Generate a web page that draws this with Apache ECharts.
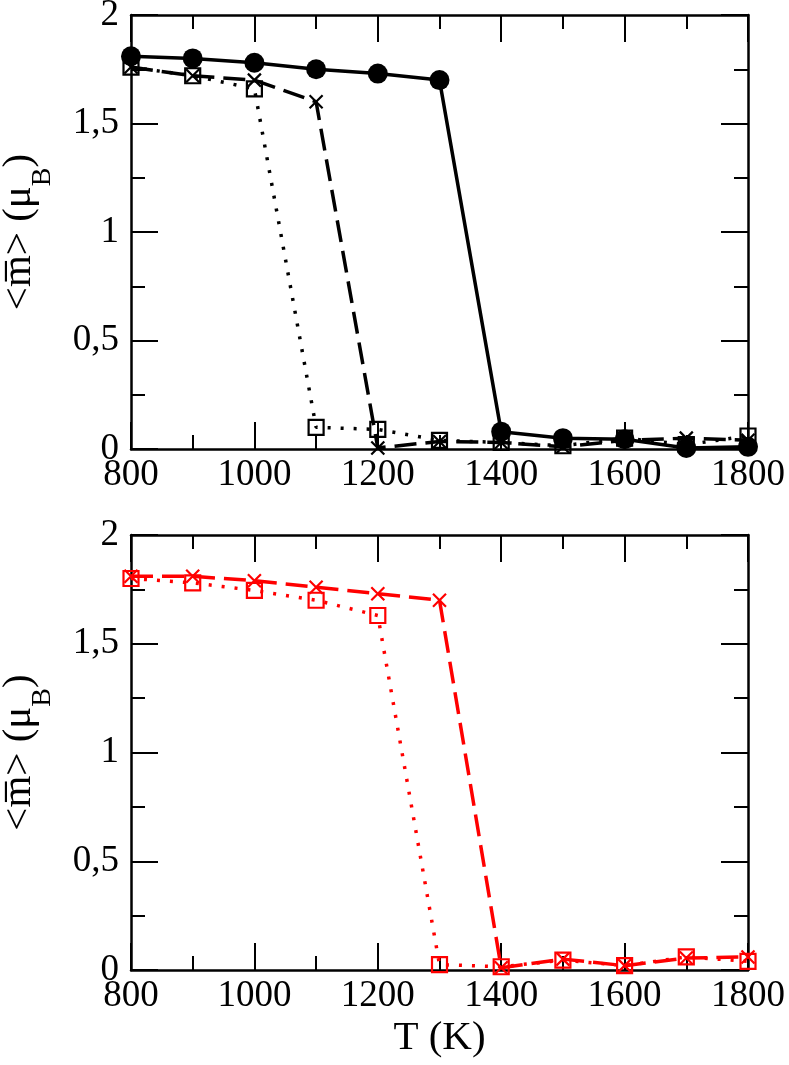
<!DOCTYPE html>
<html>
<head>
<meta charset="utf-8">
<script src="https://cdn.jsdelivr.net/npm/echarts@6/dist/echarts.min.js"></script>
<style>
  html, body { margin: 0; padding: 0; background: #fff; }
  #chart { width: 789px; height: 1065px; }
</style>
</head>
<body>
<div id="chart"></div>
<script>
// temperatures (K)
let temps = [800, 900, 1000, 1100, 1200, 1300, 1400, 1500, 1600, 1700, 1800];

// upper panel (black)
let topSolid = [1.81, 1.80, 1.78, 1.75, 1.73, 1.70, 0.08, 0.05, 0.045, 0.005, 0.01];
let topDashed = [1.76, 1.72, 1.70, 1.60, 0.005, 0.035, 0.03, 0.01, 0.04, 0.05, 0.04];
let topDotted = [1.76, 1.72, 1.66, 0.10, 0.09, 0.04, 0.03, 0.015, 0.05, 0.02, 0.06];

// lower panel (red)
let lowDashed = [1.81, 1.81, 1.79, 1.76, 1.73, 1.70, 0.01, 0.05, 0.02, 0.055, 0.06];
let lowDotted = [1.80, 1.78, 1.745, 1.70, 1.63, 0.025, 0.015, 0.045, 0.02, 0.06, 0.04];

let xTicks = [800, 1000, 1200, 1400, 1600, 1800];
let yTicks = [0, 0.5, 1, 1.5, 2];

const FONT = 'Liberation Serif';
const CROSS = 'path://M0,0L10,10M10,0L0,10';

function pairs(ys) {
    return temps.map(function (t, i) { return [t, ys[i]]; });
}

function xAxisPair(gi) {
    let base = {
        gridIndex: gi,
        type: 'value',
        min: xTicks[0],
        max: xTicks[xTicks.length - 1],
        interval: 200,
        axisLine: { onZero: false, lineStyle: { color: '#000', width: 2.5 } },
        axisTick: { inside: true, length: 27, lineStyle: { color: '#000', width: 2 } },
        minorTick: { show: true, splitNumber: 2, length: 14, lineStyle: { color: '#000', width: 2 } },
        splitLine: { show: false },
        minorSplitLine: { show: false }
    };
    let bottom = Object.assign({}, base, {
        position: 'bottom',
        axisLabel: {
            fontFamily: FONT, fontSize: 37, color: '#000', margin: 8,
            formatter: function (v) { return String(v); }
        }
    });
    if (gi === 1) {
        bottom.name = 'T (K)';
        bottom.nameLocation = 'middle';
        bottom.nameGap = 48;
        bottom.nameTextStyle = { fontFamily: FONT, fontSize: 41, color: '#000' };
    }
    let top = Object.assign({}, base, { position: 'top', axisLabel: { show: false } });
    return [bottom, top];
}

function yAxisPair(gi) {
    let base = {
        gridIndex: gi,
        type: 'value',
        min: yTicks[0],
        max: yTicks[yTicks.length - 1],
        interval: 0.5,
        axisLine: { show: true, onZero: false, lineStyle: { color: '#000', width: 2.5 } },
        axisTick: { show: true, inside: true, length: 27, lineStyle: { color: '#000', width: 2 } },
        minorTick: { show: true, splitNumber: 2, length: 14, lineStyle: { color: '#000', width: 2 } },
        splitLine: { show: false },
        minorSplitLine: { show: false }
    };
    let left = Object.assign({}, base, {
        position: 'left',
        name: '<m\u0305> (μ{sub|B})',
        nameLocation: 'middle',
        nameGap: 92,
        nameTextStyle: {
            fontFamily: FONT, fontSize: 41, color: '#000', lineHeight: 40,
            rich: { sub: { fontFamily: FONT, fontSize: 28, color: '#000', verticalAlign: 'bottom', lineHeight: 20, padding: [0, 0, -18, 0] } }
        },
        axisLabel: {
            fontFamily: FONT, fontSize: 37, color: '#000', margin: 12,
            formatter: function (v) { return String(v).replace('.', ','); }
        }
    });
    let right = Object.assign({}, base, { position: 'right', axisLabel: { show: false } });
    return [left, right];
}

function lineSeries(gi, ys, color, type, symbol, size, filled) {
    return {
        type: 'line',
        xAxisIndex: gi * 2,
        yAxisIndex: gi * 2,
        data: pairs(ys),
        clip: false,
        symbol: symbol,
        symbolSize: size,
        showSymbol: true,
        lineStyle: { color: color, width: 3.5, type: type, cap: 'butt' },
        itemStyle: {
            color: filled ? color : 'rgba(0,0,0,0)',
            borderColor: color,
            borderWidth: filled ? 0 : 2.2
        },
        animation: false
    };
}

let chart = echarts.init(document.getElementById('chart'));
let xs = xAxisPair(0).concat(xAxisPair(1));
let ysAx = yAxisPair(0).concat(yAxisPair(1));

chart.setOption({
    backgroundColor: '#fff',
    animation: false,
    grid: [
        { left: 131, right: 41, top: 15, height: 434, outerBoundsMode: 'none', containLabel: false },
        { left: 131, right: 41, top: 535, height: 435, outerBoundsMode: 'none', containLabel: false }
    ],
    xAxis: xs,
    yAxis: ysAx,
    series: [
        lineSeries(0, topDotted, '#000', [3, 10], 'rect', 15, false),
        lineSeries(0, topDashed, '#000', [22, 9], CROSS, 13, false),
        lineSeries(0, topSolid, '#000', 'solid', 'circle', 20, true),
        lineSeries(1, lowDotted, '#ff0000', [3, 10], 'rect', 15, false),
        lineSeries(1, lowDashed, '#ff0000', [22, 9], CROSS, 13, false)
    ]
});
</script>
</body>
</html>
